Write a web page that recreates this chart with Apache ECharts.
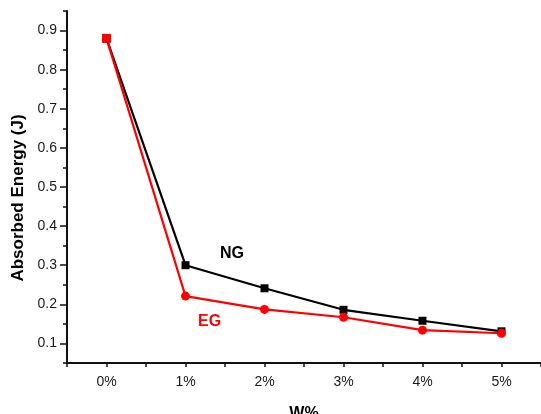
<!DOCTYPE html>
<html>
<head>
<meta charset="utf-8">
<script src="https://cdn.jsdelivr.net/npm/echarts@6/dist/echarts.min.js"></script>
<style>
  html, body { margin: 0; padding: 0; background: #fff; }
  #main { width: 541px; height: 414px; }
</style>
</head>
<body>
<div id="main"></div>
<script>
// 数据
var categories = ['0%', '1%', '2%', '3%', '4%', '5%'];
var ngValues = [0.88, 0.300, 0.241, 0.186, 0.158, 0.131];
var egValues = [0.88, 0.221, 0.187, 0.167, 0.134, 0.126];

var FONT = '"Liberation Sans", Arial, sans-serif';

function toPoints(values) {
    return values.map(function (v, i) { return [i, v]; });
}

var egData = toPoints(egValues).map(function (p, i) {
    // first point shows as a red square in the original
    return i === 0 ? { value: p, symbol: 'rect', symbolSize: 9 } : p;
});

var chart = echarts.init(document.getElementById('main'));
var option = {
    animation: false,
    grid: [
        { left: 67, right: 0, top: 11, bottom: 51, containLabel: false, outerBoundsMode: 'none' },
        // same scale, only for the labelled (long) ticks 0.1 ... 0.9
        { left: 67, right: 0, top: 30.56, bottom: 70.56, containLabel: false, outerBoundsMode: 'none' }
    ],
    xAxis: [
        {
            type: 'value',
            gridIndex: 0,
            min: -0.5,
            max: 5.5,
            interval: 0.5,
            name: 'W%',
            nameLocation: 'middle',
            nameGap: 43,
            nameTextStyle: { color: '#000', fontFamily: FONT, fontWeight: 'bold', fontSize: 16 },
            splitLine: { show: false },
            axisLine: { onZero: false, lineStyle: { color: '#111', width: 2 } },
            axisTick: { length: 4, lineStyle: { color: '#111', width: 1.5 } },
            axisLabel: {
                margin: 12,
                color: '#1a1a1a',
                fontFamily: FONT,
                fontSize: 14,
                formatter: function (v) {
                    return Math.abs(v - Math.round(v)) < 1e-6 && categories[Math.round(v)] ? categories[Math.round(v)] : '';
                }
            }
        },
        { type: 'value', gridIndex: 1, min: 0, max: 1, show: false }
    ],
    yAxis: [
        {
            type: 'value',
            gridIndex: 0,
            min: 0.05,
            max: 0.95,
            interval: 0.05,
            name: 'Absorbed Energy (J)',
            nameLocation: 'middle',
            nameGap: 40,
            nameTextStyle: { color: '#000', fontFamily: FONT, fontWeight: 'bold', fontSize: 17, padding: [0, 22, 0, 0] },
            splitLine: { show: false },
            axisLine: { onZero: false, lineStyle: { color: '#111', width: 2 } },
            axisTick: { length: 4, lineStyle: { color: '#111', width: 1.5 } },
            axisLabel: { show: false }
        },
        {
            type: 'value',
            gridIndex: 1,
            min: 0.1,
            max: 0.9,
            interval: 0.1,
            splitLine: { show: false },
            axisLine: { show: false },
            axisTick: { length: 7, lineStyle: { color: '#111', width: 1.5 } },
            axisLabel: {
                margin: 10,
                color: '#1a1a1a',
                fontFamily: FONT,
                fontSize: 14,
                formatter: function (v) { return v.toFixed(1); }
            }
        }
    ],
    graphic: [
        { type: 'text', left: 220, top: 246, style: { text: 'NG', fill: '#000', font: 'bold 16px ' + FONT } },
        { type: 'text', left: 198, top: 314, style: { text: 'EG', fill: '#ff0000', font: 'bold 16px ' + FONT } }
    ],
    series: [
        {
            name: 'NG',
            type: 'line',
            xAxisIndex: 0,
            yAxisIndex: 0,
            data: toPoints(ngValues),
            symbol: 'rect',
            symbolSize: 8,
            lineStyle: { color: '#000', width: 2.2 },
            itemStyle: { color: '#000' }
        },
        {
            name: 'EG',
            type: 'line',
            xAxisIndex: 0,
            yAxisIndex: 0,
            data: egData,
            symbol: 'circle',
            symbolSize: 9,
            lineStyle: { color: '#ff0000', width: 2.2 },
            itemStyle: { color: '#ff0000' }
        }
    ]
};
chart.setOption(option);
</script>
</body>
</html>
